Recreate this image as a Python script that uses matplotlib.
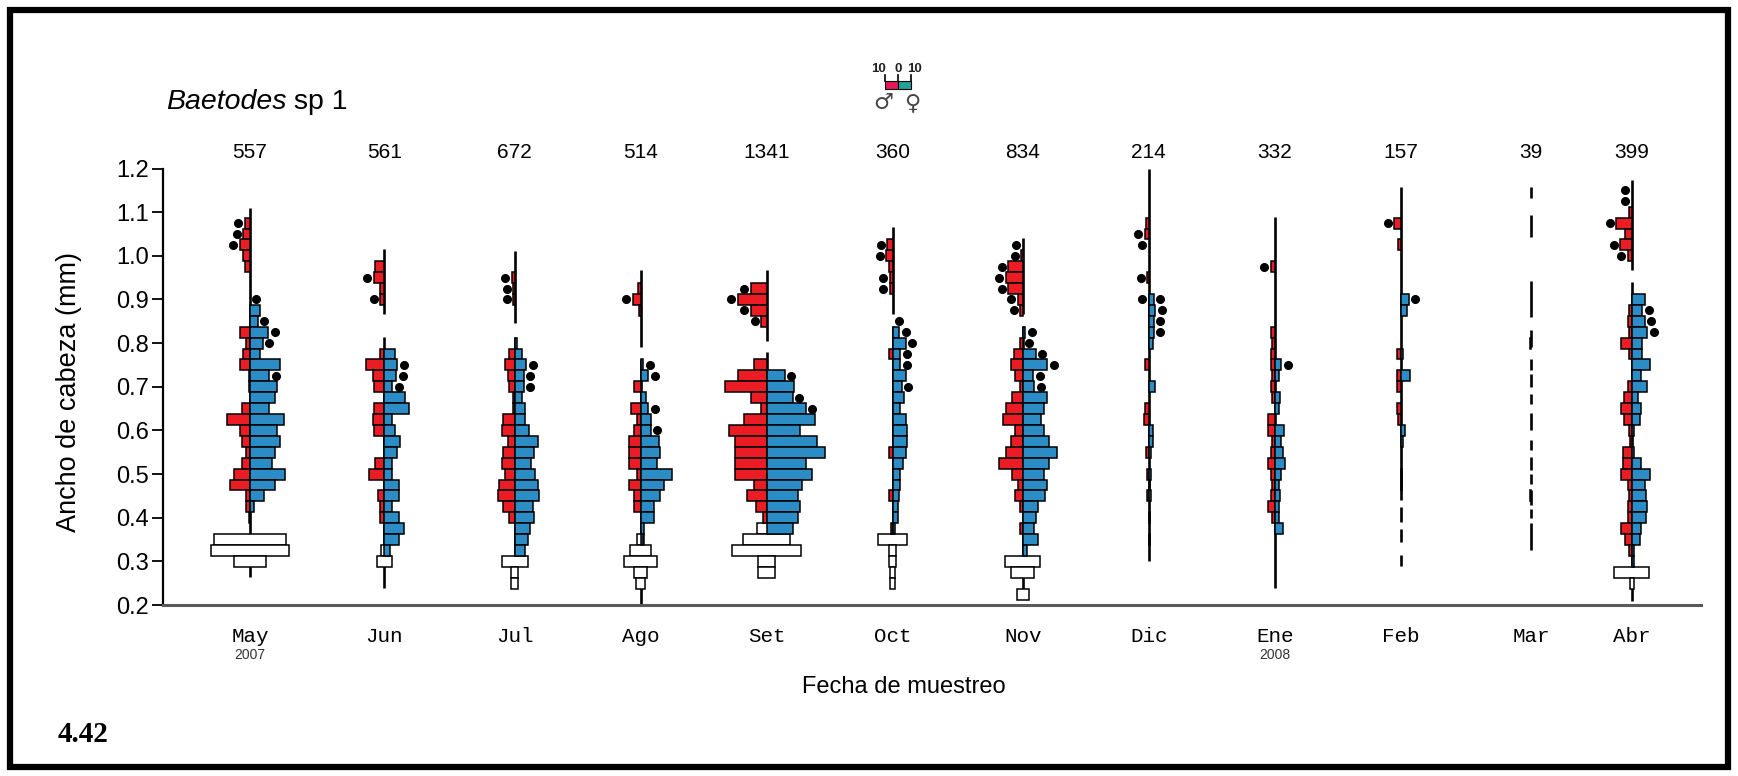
import matplotlib
matplotlib.use('Agg')
import matplotlib.pyplot as plt
from matplotlib.patches import Rectangle
from matplotlib.transforms import blended_transform_factory

plt.rcParams['font.family'] = ['Liberation Sans', 'DejaVu Sans']

# ---------------- data ----------------
months = ['May', 'Jun', 'Jul', 'Ago', 'Set', 'Oct', 'Nov', 'Dic', 'Ene', 'Feb', 'Mar', 'Abr']
sample_day = [0, 32, 63, 93, 123, 153, 184, 214, 244, 274, 305, 329]
n_total = [557, 561, 672, 514, 1341, 360, 834, 214, 332, 157, 39, 399]
year_labels = {'May': '2007', 'Ene': '2008'}
yticks = [0.2, 0.3, 0.4, 0.5, 0.6, 0.7, 0.8, 0.9, 1.0, 1.1, 1.2]

# head-width class (mm) -> number of individuals
may_male = {1.075: 4, 1.05: 5, 1.025: 8, 1.0: 5, 0.975: 4, 0.825: 8, 0.8: 3, 0.775: 5, 0.75: 8,
            0.725: 1, 0.7: 1, 0.65: 6, 0.625: 18, 0.6: 8, 0.575: 6, 0.55: 3, 0.525: 6, 0.5: 12,
            0.475: 15, 0.45: 3, 0.425: 3, 0.4: 1}
may_female = {0.875: 8, 0.85: 6, 0.825: 14, 0.8: 10, 0.775: 8, 0.75: 23, 0.725: 15, 0.7: 21,
              0.675: 19, 0.65: 15, 0.625: 26, 0.6: 21, 0.575: 23, 0.55: 19, 0.525: 17, 0.5: 27,
              0.475: 19, 0.45: 11, 0.425: 3}
may_undet = {0.35: 55, 0.325: 60, 0.3: 25}

jun_male = {0.975: 7, 0.95: 8, 0.925: 3, 0.9: 3, 0.775: 3, 0.75: 14, 0.725: 9, 0.7: 8, 0.65: 8,
            0.625: 9, 0.6: 8, 0.525: 7, 0.5: 12, 0.45: 5, 0.425: 3, 0.4: 3}
jun_female = {0.775: 8, 0.75: 10, 0.725: 9, 0.7: 6, 0.675: 16, 0.65: 19, 0.625: 6, 0.6: 8,
              0.575: 12, 0.55: 10, 0.525: 6, 0.5: 6, 0.475: 11, 0.45: 11, 0.425: 6, 0.4: 11,
              0.375: 15, 0.35: 11, 0.325: 4}
jun_undet = {0.325: 5, 0.3: 12}

jul_male = {0.95: 2, 0.925: 1, 0.9: 1, 0.775: 4, 0.75: 7, 0.725: 5, 0.7: 4, 0.675: 1, 0.65: 1,
            0.625: 9, 0.6: 10, 0.575: 5, 0.55: 9, 0.525: 10, 0.5: 7, 0.475: 12, 0.45: 13,
            0.425: 9, 0.4: 4}
jul_female = {0.8: 2, 0.775: 6, 0.75: 9, 0.725: 7, 0.7: 7, 0.675: 6, 0.65: 8, 0.625: 8, 0.6: 11,
              0.575: 18, 0.55: 15, 0.525: 13, 0.5: 16, 0.475: 18, 0.45: 19, 0.425: 14, 0.4: 15,
              0.375: 12, 0.35: 10, 0.325: 8}
jul_undet = {0.3: 20, 0.275: 5, 0.25: 5}

ago_male = {0.925: 2, 0.9: 6, 0.875: 1, 0.7: 5, 0.65: 7, 0.625: 3, 0.6: 5, 0.575: 9, 0.55: 9,
            0.525: 9, 0.5: 3, 0.475: 9, 0.45: 5, 0.425: 5}
ago_female = {0.75: 2, 0.725: 6, 0.675: 4, 0.65: 6, 0.625: 8, 0.6: 8, 0.575: 14, 0.55: 15,
              0.525: 13, 0.5: 24, 0.475: 18, 0.45: 15, 0.425: 10, 0.4: 10, 0.375: 3, 0.35: 2}
ago_undet = {0.35: 6, 0.325: 16, 0.3: 26, 0.275: 10, 0.25: 7}

set_male = {0.925: 12, 0.9: 22, 0.875: 12, 0.85: 4, 0.75: 10, 0.725: 22, 0.7: 32, 0.675: 12,
            0.65: 4, 0.625: 17, 0.6: 29, 0.575: 24, 0.55: 24, 0.525: 24, 0.5: 24, 0.475: 10,
            0.45: 15, 0.425: 8, 0.4: 3}
set_female = {0.725: 14, 0.7: 21, 0.675: 20, 0.65: 30, 0.625: 37, 0.6: 26, 0.575: 39, 0.55: 45,
              0.525: 30, 0.5: 35, 0.475: 27, 0.45: 24, 0.425: 26, 0.4: 24, 0.375: 20}
set_undet = {0.375: 14, 0.35: 36, 0.325: 53, 0.3: 13, 0.275: 13}

oct_male = {1.025: 4, 1.0: 5, 0.975: 3, 0.95: 2, 0.925: 2, 0.775: 3, 0.55: 3, 0.45: 3, 0.375: 1}
oct_female = {0.825: 5, 0.8: 10, 0.775: 6, 0.75: 6, 0.725: 10, 0.7: 7, 0.675: 9, 0.65: 6,
              0.625: 10, 0.6: 11, 0.575: 11, 0.55: 10, 0.525: 8, 0.5: 6, 0.475: 6, 0.45: 5,
              0.425: 4, 0.4: 4, 0.375: 2}
oct_undet = {0.35: 22, 0.325: 5, 0.3: 5, 0.275: 4, 0.25: 4}

nov_male = {1.0: 1, 0.975: 11, 0.95: 13, 0.925: 11, 0.9: 4, 0.875: 2, 0.8: 2, 0.775: 7, 0.75: 9,
            0.725: 6, 0.7: 2, 0.675: 8, 0.65: 13, 0.625: 15, 0.6: 6, 0.575: 9, 0.55: 13,
            0.525: 18, 0.5: 8, 0.475: 4, 0.45: 6, 0.425: 2, 0.375: 2}
nov_female = {0.825: 2, 0.775: 10, 0.75: 19, 0.725: 8, 0.7: 9, 0.675: 19, 0.65: 16, 0.625: 14,
              0.6: 16, 0.575: 20, 0.55: 26, 0.525: 20, 0.5: 16, 0.475: 19, 0.45: 17, 0.425: 12,
              0.4: 10, 0.375: 9, 0.35: 12, 0.325: 3}
nov_undet = {0.3: 27, 0.275: 18, 0.225: 9}

dic_male = {1.075: 2, 1.05: 3, 0.95: 1, 0.75: 3, 0.65: 3, 0.625: 4, 0.55: 2, 0.5: 1, 0.45: 1}
dic_female = {0.9: 4, 0.875: 5, 0.85: 4, 0.825: 4, 0.8: 3, 0.7: 5, 0.6: 3, 0.575: 3, 0.55: 2,
              0.5: 2, 0.475: 1, 0.45: 2, 0.4: 1, 0.35: 1}
dic_undet = {}

ene_male = {0.975: 3, 0.825: 3, 0.8: 2, 0.775: 3, 0.75: 3, 0.725: 2, 0.7: 3, 0.675: 2, 0.625: 5,
            0.6: 5, 0.575: 2, 0.55: 3, 0.525: 5, 0.5: 3, 0.475: 2, 0.45: 3, 0.425: 5, 0.4: 2}
ene_female = {0.75: 5, 0.725: 3, 0.675: 4, 0.65: 3, 0.6: 7, 0.575: 5, 0.55: 6, 0.525: 8, 0.5: 5,
              0.475: 3, 0.45: 4, 0.425: 3, 0.4: 3, 0.375: 6}
ene_undet = {}

feb_male = {1.075: 5, 1.025: 2, 0.775: 3, 0.725: 3, 0.7: 3, 0.65: 3, 0.625: 2}
feb_female = {0.9: 6, 0.875: 5, 0.775: 2, 0.725: 7, 0.6: 3, 0.575: 2, 0.5: 1, 0.475: 1}
feb_undet = {}

mar_male = {0.8: 1, 0.45: 1}
mar_female = {}
mar_undet = {}

abr_male = {1.1: 2, 1.075: 12, 1.05: 5, 1.025: 9, 1.0: 3, 0.875: 2, 0.85: 3, 0.825: 2, 0.8: 8,
            0.775: 2, 0.7: 3, 0.675: 6, 0.65: 8, 0.625: 6, 0.6: 2, 0.575: 1, 0.55: 7, 0.525: 7,
            0.5: 8, 0.475: 3, 0.45: 2, 0.425: 3, 0.4: 3, 0.375: 8, 0.35: 5, 0.325: 2}
abr_female = {0.9: 10, 0.875: 8, 0.85: 10, 0.825: 12, 0.8: 8, 0.775: 8, 0.75: 14, 0.725: 7,
              0.7: 12, 0.675: 5, 0.65: 7, 0.625: 6, 0.6: 2, 0.55: 2, 0.525: 7, 0.5: 14,
              0.475: 10, 0.45: 11, 0.425: 12, 0.4: 11, 0.375: 7, 0.35: 6, 0.325: 2, 0.3: 2}
abr_undet = {0.275: 27, 0.25: 3}

# classes carrying a black dot (male side / female side)
dots_male = {'May': [1.075, 1.05, 1.025], 'Jun': [0.95, 0.9], 'Jul': [0.95, 0.925, 0.9],
             'Ago': [0.9], 'Set': [0.925, 0.9, 0.875, 0.85], 'Oct': [1.025, 1.0, 0.95, 0.925],
             'Nov': [1.025, 1.0, 0.975, 0.95, 0.925, 0.9, 0.875], 'Dic': [1.05, 1.025, 0.95, 0.9],
             'Ene': [0.975], 'Feb': [1.075], 'Mar': [],
             'Abr': [1.15, 1.125, 1.075, 1.025, 1.0]}
dots_female = {'May': [0.9, 0.85, 0.825, 0.8, 0.725], 'Jun': [0.75, 0.725, 0.7],
               'Jul': [0.75, 0.725, 0.7], 'Ago': [0.75, 0.725, 0.65, 0.6],
               'Set': [0.725, 0.675, 0.65], 'Oct': [0.85, 0.825, 0.8, 0.775, 0.75, 0.7],
               'Nov': [0.825, 0.8, 0.775, 0.75, 0.725, 0.7], 'Dic': [0.9, 0.875, 0.85, 0.825],
               'Ene': [0.75], 'Feb': [0.9], 'Mar': [], 'Abr': [0.875, 0.85, 0.825]}

# observed size ranges (mm) of each sample (central line)
ranges = {'May': [(0.265, 1.11)],
          'Jun': [(0.24, 0.814), (0.867, 1.015)],
          'Jul': [(0.24, 0.815), (0.845, 1.01)],
          'Ago': [(0.2, 0.7625), (0.79, 0.967)],
          'Set': [(0.265, 0.78), (0.805, 0.967)],
          'Oct': [(0.242, 0.84), (0.867, 1.065)],
          'Nov': [(0.215, 0.84), (0.867, 1.04)],
          'Dic': [(0.3, 1.2)],
          'Ene': [(0.24, 1.09)],
          'Feb': [(0.44, 1.157), (0.39, 0.425), (0.345, 0.375), (0.29, 0.315)],
          'Mar': [(1.133, 1.157), (1.043, 1.093), (0.86, 0.943), (0.79, 0.83), (0.738, 0.764),
                  (0.70, 0.73), (0.66, 0.684), (0.60, 0.64), (0.555, 0.578), (0.51, 0.54),
                  (0.478, 0.5), (0.43, 0.463), (0.40, 0.42), (0.326, 0.387)],
          'Abr': [(0.21, 0.94), (0.967, 1.173)]}

male_data = [may_male, jun_male, jul_male, ago_male, set_male, oct_male, nov_male, dic_male,
             ene_male, feb_male, mar_male, abr_male]
female_data = [may_female, jun_female, jul_female, ago_female, set_female, oct_female,
               nov_female, dic_female, ene_female, feb_female, mar_female, abr_female]
undet_data = [may_undet, jun_undet, jul_undet, ago_undet, set_undet, oct_undet, nov_undet,
              dic_undet, ene_undet, feb_undet, mar_undet, abr_undet]

# ---------------- style ----------------
W, H = 1738, 776
RED = '#EC1C24'
BLUE = '#2B8CC6'
bw = 0.025            # class width (mm)
xmin, xmax = -20.7, 345.5
cs = 1.3 / 4.2        # x-units per individual
dot_gap = 5           # individuals

fig = plt.figure(figsize=(W / 100, H / 100), dpi=100)
ax = fig.add_axes([163 / W, 1 - 605 / H, (1701 - 163) / W, (605 - 168.5) / H])
ax.set_xlim(xmin, xmax)
ax.set_ylim(0.2, 1.2)
trans_x = blended_transform_factory(ax.transData, fig.transFigure)

for i, m in enumerate(months):
    x0 = sample_day[i]
    for lo, hi in ranges[m]:
        ax.plot([x0, x0], [lo, hi], color='black', lw=1.9, zorder=1, solid_capstyle='butt')
    for s, c in undet_data[i].items():
        ax.add_patch(Rectangle((x0 - c * cs / 2, s - bw / 2), c * cs, bw, fc='white',
                               ec='black', lw=1.1, zorder=2))
    for s, c in male_data[i].items():
        ax.add_patch(Rectangle((x0 - c * cs, s - bw / 2), c * cs, bw, fc=RED,
                               ec='black', lw=1.1, zorder=3))
    for s, c in female_data[i].items():
        ax.add_patch(Rectangle((x0, s - bw / 2), c * cs, bw, fc=BLUE,
                               ec='black', lw=1.1, zorder=3))
    for s in dots_male[m]:
        c = male_data[i].get(s, 0)
        ax.plot(x0 - (c + dot_gap) * cs, s, 'o', color='black', ms=5.5, zorder=4)
    for s in dots_female[m]:
        c = female_data[i].get(s, 0)
        ax.plot(x0 + (c + dot_gap) * cs, s, 'o', color='black', ms=5.5, zorder=4)
    ax.text(x0, 1 - 152 / H, str(n_total[i]), transform=trans_x,
            ha='center', va='center', fontsize=15)
    ax.text(x0, 1 - 636 / H, m, transform=trans_x, ha='center', va='center',
            fontsize=15, family='Liberation Mono')
    if m in year_labels:
        ax.text(x0, 1 - 655 / H, year_labels[m], transform=trans_x, ha='center',
                va='center', fontsize=10, color='#333333')

ax.set_xticks([])
ax.set_yticks(yticks)
ax.set_yticklabels([f'{v:.1f}' for v in yticks], fontsize=17)
ax.tick_params(axis='y', length=8, width=1.3, pad=2)
for sp in ['top', 'right']:
    ax.spines[sp].set_visible(False)
ax.spines['left'].set_linewidth(1.6)
ax.spines['bottom'].set_linewidth(2.2)
ax.spines['bottom'].set_color('#5a5a5a')

fig.text(69 / W, 1 - 392 / H, 'Ancho de cabeza (mm)', rotation=90, ha='center', va='center',
         fontsize=19.5)
fig.text(904 / W, 1 - 687 / H, 'Fecha de muestreo', ha='center', va='center', fontsize=17)
fig.text(58 / W, 1 - 734 / H, '4.42', ha='left', va='center', fontsize=21, weight='bold',
         family='Liberation Serif')

# species title
t1 = fig.text(166 / W, 1 - 102 / H, 'Baetodes', style='italic', ha='left', va='center',
              fontsize=20.5)
fig.canvas.draw()
bb = t1.get_window_extent()
fig.text(bb.x1 / W, 1 - 102 / H, ' sp 1', ha='left', va='center', fontsize=20.5)

# scale legend (10 0 10 individuals)
lx0, lx1, lx2 = 885 / W, 898 / W, 911 / W
fig.add_artist(Rectangle((lx0, 1 - 89 / H), lx1 - lx0, 8 / H, transform=fig.transFigure,
                         fc='#E5195A', ec='black', lw=0.8))
fig.add_artist(Rectangle((lx1, 1 - 89 / H), lx2 - lx1, 8 / H, transform=fig.transFigure,
                         fc='#22A39A', ec='black', lw=0.8))
for lx in (lx0, lx1, lx2):
    fig.add_artist(plt.Line2D([lx, lx], [1 - 81 / H, 1 - 75 / H], transform=fig.transFigure,
                              color='black', lw=1.2))
for lx, s in ((878, '10'), (898, '0'), (915, '10')):
    fig.text(lx / W, 1 - 69 / H, s, ha='center', va='center', fontsize=9.5, weight='bold',
             color='#222222')
fig.text(883 / W, 1 - 103 / H, '\u2642', ha='center', va='center', fontsize=16,
         family='DejaVu Sans', color='#444444')
fig.text(912 / W, 1 - 103 / H, '\u2640', ha='center', va='center', fontsize=16,
         family='DejaVu Sans', color='#444444')

# outer frame
fig.add_artist(Rectangle((10 / W, 9 / H), (W - 20) / W, (H - 19) / H, transform=fig.transFigure,
                         fill=False, ec='black', lw=4.5))

fig.savefig('out.png', dpi=100)
